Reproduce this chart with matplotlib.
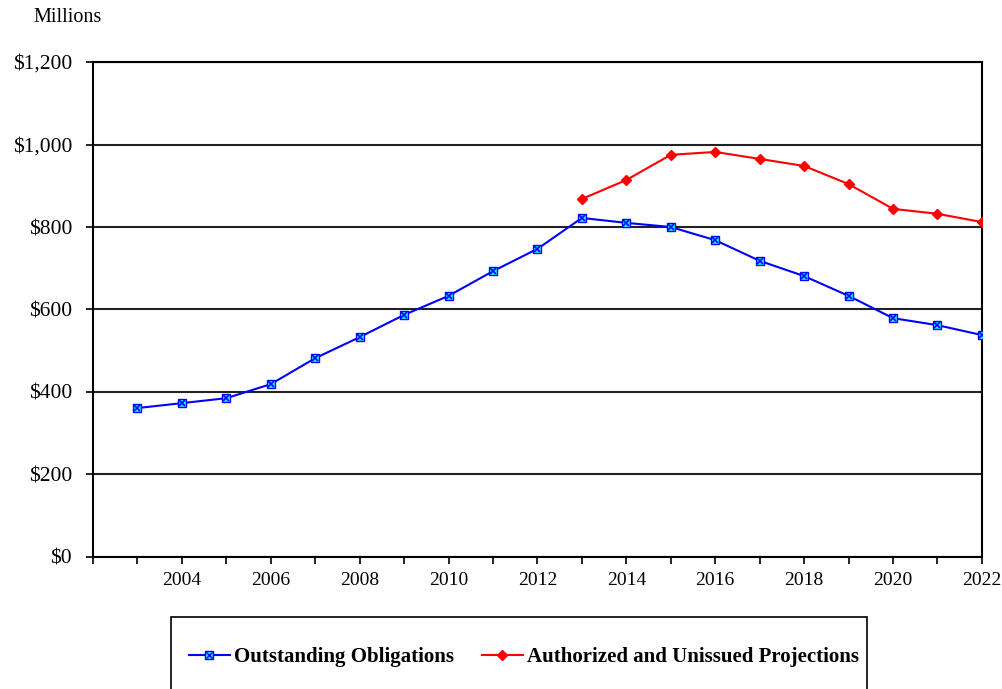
import matplotlib.pyplot as plt
from matplotlib.patches import Rectangle
from matplotlib.ticker import FuncFormatter

plt.rcParams['font.family'] = ['Liberation Serif', 'DejaVu Serif']

years = list(range(2003, 2023))
outstanding = [361, 373, 385, 419, 482, 533, 587, 633, 693, 747,
               822, 810, 800, 768, 718, 681, 633, 579, 562, 538]
proj_years = list(range(2013, 2023))
authorized = [868, 914, 975, 982, 965, 948, 904, 844, 832, 812]

fig = plt.figure(figsize=(10.03, 6.89), dpi=100)
ax = fig.add_axes([0.0927, 0.1916, 0.8863, 0.7184])

ax.plot(years, outstanding, color='blue', lw=1.5, marker='s', ms=6,
        mfc='cyan', mec='blue', mew=1, zorder=3)
ax.plot(years, outstanding, ls='none', marker='x', ms=4.5, mec='blue', mew=1.2, zorder=4)
ax.plot(proj_years, authorized, color='red', lw=1.5, marker='D', ms=5,
        mfc='red', mec='red', zorder=3)

ax.set_xlim(2002, 2022)
ax.set_ylim(0, 1200)
ax.set_yticks(range(0, 1201, 200))
ax.yaxis.set_major_formatter(FuncFormatter(lambda v, p: '${:,.0f}'.format(v)))
ax.set_xticks(range(2002, 2023))
ax.set_xticklabels([str(y) if y % 2 == 0 and y > 2002 else '' for y in range(2002, 2023)])
ax.tick_params(axis='both', direction='out', length=5, width=1.2, colors='black')
ax.tick_params(axis='x', pad=6, labelsize=14)
ax.tick_params(axis='y', pad=10, labelsize=15.5)
ax.grid(axis='y', color='#222222', lw=1.5)
ax.set_axisbelow(True)
for s in ax.spines.values():
    s.set_linewidth(1.5)
    s.set_color('black')

fig.text(0.033, 0.975, 'Millions', fontsize=14.5, va='center', ha='left')

# legend box
fig.add_artist(Rectangle((0.1705, -0.05), 0.694, 0.1545, transform=fig.transFigure,
                         fill=False, ec='black', lw=1.2, clip_on=False))
h1 = (plt.Line2D([], [], color='blue', lw=1.5, marker='s', ms=6, mfc='cyan', mec='blue'),
      plt.Line2D([], [], ls='none', marker='x', ms=4.5, mec='blue'))
h2 = plt.Line2D([], [], color='red', lw=1.5, marker='D', ms=5, mfc='red', mec='red')
fig.legend([h1, h2], ['Outstanding Obligations', 'Authorized and Unissued Projections'],
           loc='center', bbox_to_anchor=(0.5224, 0.0464), ncol=2, frameon=False,
           prop={'weight': 'bold', 'size': 15}, handlelength=2.0, columnspacing=1.3,
           handletextpad=0.2, borderpad=0, borderaxespad=0)

fig.savefig('out.png', dpi=100)
